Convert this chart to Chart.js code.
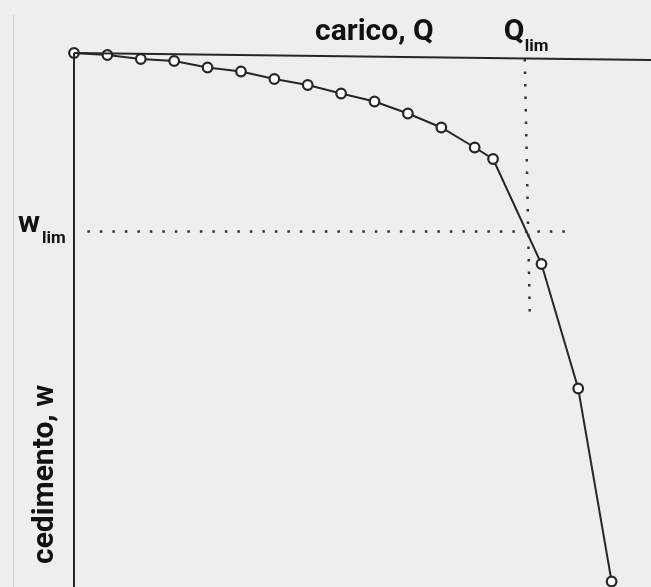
<!DOCTYPE html>
<html>
<head>
<meta charset="utf-8">
<script src="https://cdn.jsdelivr.net/npm/chart.js@4.4.1/dist/chart.umd.min.js"></script>
<style>
html,body{margin:0;padding:0;background:#eeeeee;}
#wrap{position:relative;width:651px;height:587px;}
canvas{display:block;}
</style>
</head>
<body>
<div id="wrap"><canvas id="c" width="651" height="587"></canvas></div>
<script>
// Load Q (arbitrary units) and settlement w (arbitrary units, downward)
const loadQ = [0, 10, 20, 30, 40, 50, 60, 70, 80, 90, 100, 110, 120, 125.5, 140, 151, 161];
const settlementW = [0, 0.4, 1.2, 1.6, 2.9, 3.7, 5.2, 6.4, 8.1, 9.7, 12.1, 14.9, 18.9, 21.2, 42.2, 67.1, 105.7];
const qLim = [135.0, 136.5];       // dotted vertical (top, bottom)
const qLimW = [1.2, 52];
const wLim = 35.7;
const wLimQ = [4, 150];
const axisTopQ = [0, 172.8];
const axisTopW = [0, 1.4];
const xTitle = "carico, Q";
const yTitle = "cedimento, w";

const ink = '#262626';
const pts = loadQ.map((q, i) => ({x: q, y: settlementW[i]}));

const textPlugin = {
  id: 'labels',
  afterDraw(chart) {
    const ctx = chart.ctx;
    const xs = chart.scales.x, ys = chart.scales.y;
    ctx.save();
    // faint frame line at left
    ctx.strokeStyle = '#cfcfcf';
    ctx.lineWidth = 1;
    ctx.beginPath(); ctx.moveTo(13.5, 15); ctx.lineTo(13.5, 587); ctx.stroke();
    ctx.fillStyle = '#111';
    ctx.textBaseline = 'alphabetic';
    ctx.textAlign = 'left';
    ctx.font = 'bold 30px Roboto';
    ctx.fillText(xTitle, 315, 40);
    const qx = xs.getPixelForValue(qLim[0]);
    ctx.fillText('Q', qx - 21, 40);
    ctx.font = 'bold 17px Roboto';
    ctx.fillText('lim', qx, 51);
    const wy = ys.getPixelForValue(wLim);
    ctx.font = 'bold 30px Roboto';
    ctx.fillText('w', 18, wy);
    ctx.font = 'bold 17px Roboto';
    ctx.fillText('lim', 42, wy + 11);
    ctx.font = 'bold 30px Roboto';
    ctx.translate(53, 564);
    ctx.rotate(-Math.PI / 2);
    ctx.fillText(yTitle, 0, 0);
    ctx.restore();
  }
};

new Chart(document.getElementById('c'), {
  type: 'scatter',
  data: {
    datasets: [
      {
        data: axisTopQ.map((q, i) => ({x: q, y: axisTopW[i]})),
        showLine: true, borderColor: ink, borderWidth: 2, pointRadius: 0, clip: false
      },
      {
        data: [{x: 0, y: 0}, {x: 0, y: 110}],
        showLine: true, borderColor: ink, borderWidth: 2, pointRadius: 0, clip: false
      },
      {
        data: wLimQ.map(q => ({x: q, y: wLim})),
        showLine: true, borderColor: '#333', borderWidth: 2.5, borderDash: [2.5, 10], pointRadius: 0, clip: false
      },
      {
        data: qLim.map((q, i) => ({x: q, y: qLimW[i]})),
        showLine: true, borderColor: '#333', borderWidth: 2.5, borderDash: [2.5, 10], pointRadius: 0, clip: false
      },
      {
        data: pts,
        showLine: true, borderColor: ink, borderWidth: 2,
        pointRadius: 4.8, pointBackgroundColor: '#ffffff', pointBorderColor: ink, pointBorderWidth: 2.2,
        clip: false
      }
    ]
  },
  options: {
    responsive: false,
    animation: false,
    layout: {autoPadding: false, padding: {left: 74, top: 53, right: 0, bottom: 0}},
    plugins: {legend: {display: false}, tooltip: {enabled: false}},
    scales: {
      x: {type: 'linear', display: false, min: 0, max: 172.8},
      y: {type: 'linear', display: false, min: 0, max: 106.8, reverse: true}
    }
  },
  plugins: [textPlugin]
});
</script>
</body>
</html>
